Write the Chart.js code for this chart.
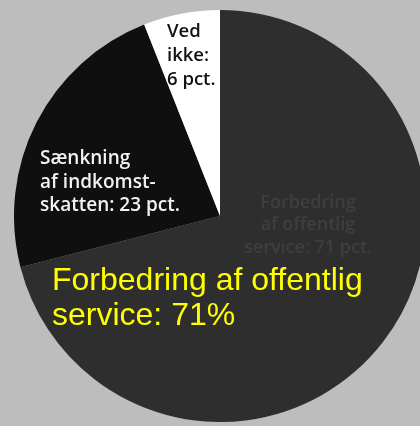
<!DOCTYPE html>
<html>
<head>
<meta charset="utf-8">
<script src="https://cdn.jsdelivr.net/npm/chart.js@4/dist/chart.umd.min.js"></script>
<style>
  html, body { margin: 0; padding: 0; width: 420px; height: 426px; overflow: hidden; background: #bdbdbd; }
  #wrap { position: absolute; left: 14px; top: 10px; width: 412px; height: 412px; }
</style>
</head>
<body>
<div id="wrap"><canvas id="c"></canvas></div>
<script>
const categories = ["Forbedring af offentlig service", "Sænkning af indkomstskatten", "Ved ikke"];
const values = [71, 23, 6];
const sliceColors = ["#2e2e2e", "#0f0f0f", "#ffffff"];

const labelPlugin = {
  id: 'sliceLabels',
  afterDatasetsDraw(chart) {
    const ctx = chart.ctx;
    const arc = chart.getDatasetMeta(0).data[0];
    const cx = arc.x, cy = arc.y;
    ctx.save();
    ctx.textBaseline = 'middle';
    // faint original text in big slice
    ctx.fillStyle = 'rgba(70,70,70,0.7)';
    ctx.font = '600 18px "Open Sans", sans-serif';
    ctx.textAlign = 'center';
    [["Forbedring", -13], ["af offentlig", 9], ["service: 71 pct.", 32]].forEach(([t, dy]) => {
      ctx.fillText(t, cx + 88, cy + dy);
    });
    // Ved ikke
    ctx.textAlign = 'left';
    ctx.fillStyle = '#111';
    ctx.font = '600 18.5px "Open Sans", sans-serif';
    [["Ved", -184], ["ikke:", -160], ["6 pct.", -136]].forEach(([t, dy]) => {
      ctx.fillText(t, cx - 53, cy + dy);
    });
    // Sænkning
    ctx.fillStyle = '#f2f2f2';
    ctx.font = '600 19px "Open Sans", sans-serif';
    [["Sænkning", -57], ["af indkomst-", -33], ["skatten: 23 pct.", -10]].forEach(([t, dy]) => {
      ctx.fillText(t, cx - 180, cy + dy);
    });
    // Yellow overlay
    ctx.fillStyle = '#ffff00';
    ctx.font = '32px "Liberation Sans", Arial, sans-serif';
    ctx.textBaseline = 'alphabetic';
    ctx.fillText(categories[0].replace(" service", ""), cx - 168, cy + 74);
    ctx.fillText("service: " + values[0] + "%", cx - 168, cy + 109);
    ctx.restore();
  }
};

new Chart(document.getElementById('c'), {
  type: 'pie',
  data: {
    labels: categories,
    datasets: [{
      data: values,
      backgroundColor: sliceColors,
      borderWidth: 0,
      hoverOffset: 0
    }]
  },
  options: {
    responsive: true,
    maintainAspectRatio: false,
    animation: false,
    layout: { padding: 0 },
    plugins: { legend: { display: false }, tooltip: { enabled: false } },
    events: []
  },
  plugins: [labelPlugin]
});
</script>
</body>
</html>
